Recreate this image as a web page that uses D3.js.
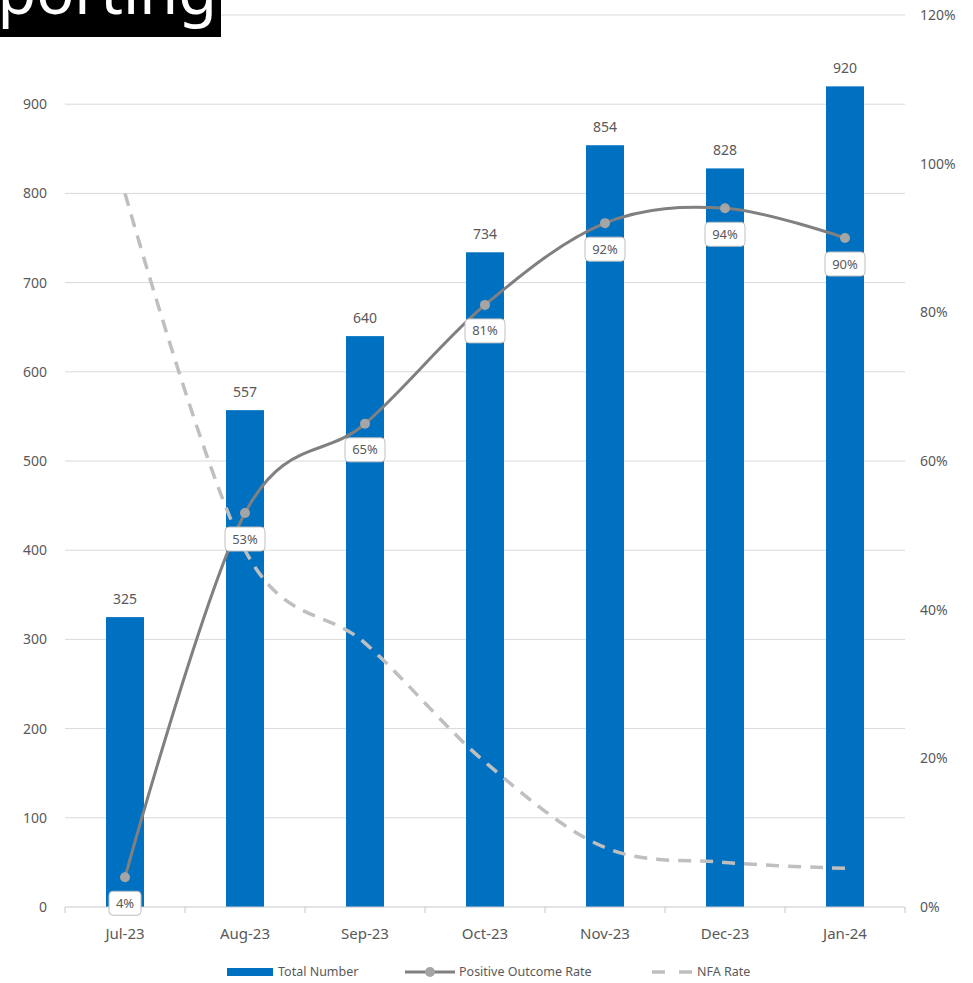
<!DOCTYPE html>
<meta charset="utf-8">
<style>
body { margin: 0; background: #fff; }
svg { font-family: "Noto Sans", "Open Sans", sans-serif; }
.grid line { stroke: #d9d9d9; stroke-width: 1; }
.axis text { fill: #595959; font-size: 14px; }
</style>
<body>
<script src="https://d3js.org/d3.v7.min.js"></script>
<svg width="973" height="983"></svg>
<script>

var months = ["Jul-23", "Aug-23", "Sep-23", "Oct-23", "Nov-23", "Dec-23", "Jan-24"];
var totalNumber = [325, 557, 640, 734, 854, 828, 920];
var positiveRate = [0.04, 0.53, 0.65, 0.81, 0.92, 0.94, 0.90];
var nfaRate = [0.96, 0.48, 0.355, 0.195, 0.08, 0.06, 0.052];
var leftTicks = [0, 100, 200, 300, 400, 500, 600, 700, 800, 900, 1000];
var rightTicks = [0, 0.2, 0.4, 0.6, 0.8, 1.0, 1.2];

var svg = d3.select("svg");

var x = d3.scaleBand()
    .domain(months)
    .range([65, 905]);

var yLeft = d3.scaleLinear()
    .domain([0, 1000])
    .range([907, 15]);

var yRight = d3.scaleLinear()
    .domain([0, 1.2])
    .range([907, 15]);

var barWidth = 38;
function cx(d) { return x(d) + x.bandwidth() / 2; }

// gridlines
svg.append("g")
    .attr("class", "grid")
  .selectAll("line")
  .data(leftTicks.slice(1))
  .enter().append("line")
    .attr("x1", 65)
    .attr("x2", 905)
    .attr("y1", function(d) { return yLeft(d); })
    .attr("y2", function(d) { return yLeft(d); });

// left axis labels (1000 sits under the title box in the original)
svg.append("g")
    .attr("class", "axis")
  .selectAll("text")
  .data(leftTicks.filter(function(d) { return d < 1000; }))
  .enter().append("text")
    .attr("x", 47)
    .attr("y", function(d) { return yLeft(d); })
    .attr("dy", "0.35em")
    .attr("text-anchor", "end")
    .text(function(d) { return d; });

// right axis labels
svg.append("g")
    .attr("class", "axis")
  .selectAll("text")
  .data(rightTicks)
  .enter().append("text")
    .attr("x", 920)
    .attr("y", function(d) { return yRight(d); })
    .attr("dy", "0.35em")
    .attr("text-anchor", "start")
    .text(d3.format(".0%"));

// bars
svg.append("g")
  .selectAll("rect")
  .data(months)
  .enter().append("rect")
    .attr("x", function(d) { return cx(d) - barWidth / 2; })
    .attr("width", barWidth)
    .attr("y", function(d, i) { return yLeft(totalNumber[i]); })
    .attr("height", function(d, i) { return yLeft(0) - yLeft(totalNumber[i]); })
    .attr("fill", "#0070c0");

// bar value labels
svg.append("g")
  .selectAll("text")
  .data(months)
  .enter().append("text")
    .attr("x", cx)
    .attr("y", function(d, i) { return yLeft(totalNumber[i]) - 13; })
    .attr("text-anchor", "middle")
    .attr("fill", "#595959")
    .attr("font-size", "14px")
    .text(function(d, i) { return totalNumber[i]; });

// x axis
var xAxis = svg.append("g")
    .attr("transform", "translate(0,907)");
xAxis.append("line")
    .attr("x1", 65).attr("x2", 905)
    .attr("stroke", "#c8c8c8");
xAxis.selectAll(".tick")
  .data(months.concat([null]))
  .enter().append("line")
    .attr("x1", function(d) { return d ? x(d) : 905; })
    .attr("x2", function(d) { return d ? x(d) : 905; })
    .attr("y1", 0).attr("y2", 6)
    .attr("stroke", "#c8c8c8");
xAxis.selectAll("text")
  .data(months)
  .enter().append("text")
    .attr("x", cx)
    .attr("y", 32)
    .attr("text-anchor", "middle")
    .attr("fill", "#595959")
    .attr("font-size", "15px")
    .text(function(d) { return d; });

var line = d3.line()
    .x(function(d) { return cx(d[0]); })
    .y(function(d) { return yRight(d[1]); })
    .curve(d3.curveCardinal.tension(0));

// NFA rate dashed
svg.append("path")
    .datum(months.map(function(m, i) { return [m, nfaRate[i]]; }))
    .attr("fill", "none")
    .attr("stroke", "#bfbfbf")
    .attr("stroke-width", 3.5)
    .attr("stroke-dasharray", "13,9")
    .attr("d", line);

// Positive outcome rate line
var posData = months.map(function(m, i) { return [m, positiveRate[i]]; });
svg.append("path")
    .datum(posData)
    .attr("fill", "none")
    .attr("stroke", "#808080")
    .attr("stroke-width", 3)
    .attr("d", line);

svg.append("g")
  .selectAll("circle")
  .data(posData)
  .enter().append("circle")
    .attr("cx", function(d) { return cx(d[0]); })
    .attr("cy", function(d) { return yRight(d[1]); })
    .attr("r", 5)
    .attr("fill", "#a5a5a5");

// rate labels
var lbl = svg.append("g")
  .selectAll("g")
  .data(posData)
  .enter().append("g")
    .attr("transform", function(d) { return "translate(" + cx(d[0]) + "," + (yRight(d[1]) + 26) + ")"; });
lbl.append("rect")
    .attr("x", function(d) { return d[1] < 0.1 ? -16 : -20; })
    .attr("y", -12)
    .attr("width", function(d) { return d[1] < 0.1 ? 32 : 40; })
    .attr("height", 24)
    .attr("rx", 4)
    .attr("fill", "#fff")
    .attr("stroke", "#bfbfbf");
lbl.append("text")
    .attr("text-anchor", "middle")
    .attr("dy", "0.35em")
    .attr("fill", "#595959")
    .attr("font-size", "13px")
    .text(function(d) { return d3.format(".0%")(d[1]); });

// legend
var legend = svg.append("g").attr("transform", "translate(0,972)");
legend.append("rect")
    .attr("x", 227).attr("y", -4).attr("width", 46).attr("height", 8)
    .attr("fill", "#0070c0");
legend.append("text")
    .attr("x", 278).attr("dy", "0.35em")
    .attr("fill", "#595959").attr("font-size", "12.5px")
    .text("Total Number");
legend.append("line")
    .attr("x1", 405).attr("x2", 455)
    .attr("stroke", "#808080").attr("stroke-width", 3);
legend.append("circle")
    .attr("cx", 430).attr("r", 5).attr("fill", "#a5a5a5");
legend.append("text")
    .attr("x", 459).attr("dy", "0.35em")
    .attr("fill", "#595959").attr("font-size", "12.5px")
    .text("Positive Outcome Rate");
legend.append("line")
    .attr("x1", 652).attr("x2", 692)
    .attr("stroke", "#bfbfbf").attr("stroke-width", 3.5)
    .attr("stroke-dasharray", "13,14");
legend.append("text")
    .attr("x", 697).attr("dy", "0.35em")
    .attr("fill", "#595959").attr("font-size", "12.5px")
    .text("NFA Rate");

// title fragment, cut off by the page edge as in the original
svg.append("rect")
    .attr("x", 0).attr("y", 0).attr("width", 221).attr("height", 37)
    .attr("fill", "#000");
svg.append("text")
    .attr("x", 217).attr("y", 14)
    .attr("text-anchor", "end")
    .attr("fill", "#fff")
    .attr("font-size", "63px")
    .text("Reporting");

</script>
</body>
